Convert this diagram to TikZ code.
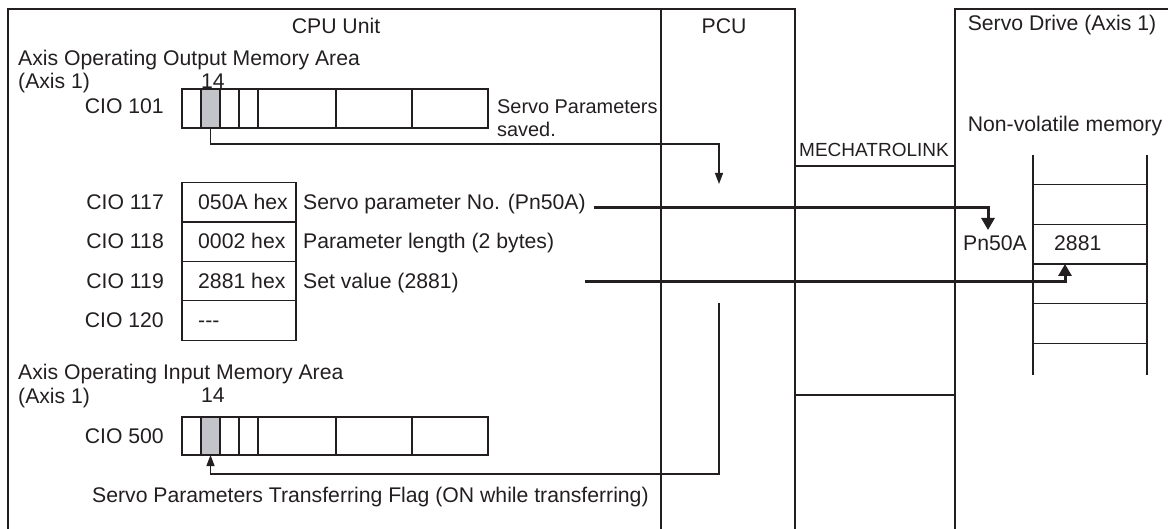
\documentclass[tikz,border=0pt]{standalone}
\usepackage{fontspec}
\setmainfont{Liberation Sans}
\usetikzlibrary{arrows.meta}
\definecolor{ink}{HTML}{231F20}
\definecolor{cellgray}{HTML}{C2C4CA}
\newcommand\myfs{\fontsize{21.2}{24}\selectfont}
\newcommand\mynarrowfs{\fontsize{19.9}{24}\selectfont}
\newcommand\mysmallfs{\fontsize{19}{22}\selectfont}
\begin{document}
\begin{tikzpicture}[x=1pt,y=-1pt,
  lbl/.style={inner sep=0pt, font=\myfs, text=ink},
  frame/.style={draw=ink, line width=1.3pt},
  cell/.style={draw=ink, line width=1.3pt, rectangle, inner sep=0pt, outer sep=0pt},
  thinarr/.style={draw=ink, line width=1.2pt, -{Triangle[length=11pt,width=8pt]}},
  thickarr/.style={draw=ink, line width=3pt, -{Triangle[length=12pt,width=13pt]}}]
\useasboundingbox (0,0) rectangle (1168,529);
% frames
\draw[frame] (8,529) -- (8,9) -- (661,9) -- (661,529);
\draw[frame] (661,9) -- (795,9) -- (795,529);
\draw[frame] (795,166) -- (955,166);
\draw[frame] (795,395) -- (955,395);
\draw[frame] (955,529) -- (955,9) -- (1168,9);
% titles
\node[lbl, anchor=base] (cpu) at (336,34) {CPU Unit};
\node[lbl, anchor=base] (pcu) at (724,34) {PCU};
\node[lbl, anchor=base] (servo) at (1062,31) {Servo Drive (Axis 1)};
\node[lbl, anchor=base, font=\mysmallfs] (mecha) at (874,157) {MECHATROLINK};
\node[lbl, anchor=base] (nvm) at (1065,132) {Non-volatile memory};
% output memory area
\node[lbl, anchor=base west] (outhdr) at (18,66) {Axis Operating Output Memory Area};
\node[lbl, anchor=base west] (outax) at (18,89) {(Axis 1)};
\node[lbl, anchor=base] (out14) at (213,88.5) {14};
\node[lbl, anchor=base east] (cio101) at (164,114) {CIO 101};
\foreach \a/\b [count=\i] in {182/201,201/220,220/239,239/258,258/336,336/412,412/488}
  \node[cell, minimum width={\b-\a}, minimum height=39] (o\i) at ({(\a+\b)/2},108.5) {};
\node[cell, fill=cellgray, minimum width=19, minimum height=39] (o14) at (210.5,108.5) {};
\node[lbl, anchor=base west, font=\mynarrowfs] (sps) at (497,114) {Servo Parameters};
\node[lbl, anchor=base west, font=\mynarrowfs] (saved) at (497,137) {saved.};
% table
\foreach \t/\v/\yc/\d [count=\i] in {117/050A hex/202.5/Servo parameter No. (Pn50A),118/0002 hex/241.5/Parameter length (2 bytes),119/2881 hex/281/Set value (2881),120/{-}{-}{-}/320.5/{}}{
  \node[cell, minimum width=114, minimum height=39.5] (r\t) at (239,\yc) {};
  \node[lbl, anchor=base east] (c\t) at (164,\yc+7.5) {CIO \t};
  \node[lbl, anchor=base west] (v\t) at (198,\yc+7.5) {\v};
  \node[lbl, anchor=base west] (d\t) at (303,\yc+7.5) {\d};
}
% input memory area
\node[lbl, anchor=base west] (inhdr) at (18,380) {Axis Operating Input Memory Area};
\node[lbl, anchor=base west] (inax) at (18,403) {(Axis 1)};
\node[lbl, anchor=base] (in14) at (213,402.5) {14};
\node[lbl, anchor=base east] (cio500) at (164,443) {CIO 500};
\foreach \a/\b [count=\i] in {182/201,201/220,220/239,239/258,258/336,336/412,412/488}
  \node[cell, minimum width={\b-\a}, minimum height=38] (n\i) at ({(\a+\b)/2},436) {};
\node[cell, fill=cellgray, minimum width=19, minimum height=38] (i14) at (210.5,436) {};
\node[lbl, anchor=base west] (flag) at (92,502) {Servo Parameters Transferring Flag (ON while transferring)};
% servo memory
\draw[frame] (1033,155) -- (1033,375);
\draw[frame] (1147,155) -- (1147,375);
\foreach \yc [count=\i] in {204.5,244,284,323.5}
  \node[cell, minimum width=114, minimum height=39.5] (m\i) at (1090,\yc) {};
\node[lbl, anchor=base west] (val) at (1054,251) {2881};
\node[lbl, anchor=base east] (pn) at (1027,251) {Pn50A};
% connectors
\coordinate (bend1) at (719,144);
\coordinate (pcuIn) at (719,184);
\draw[thinarr] (o14.south) |- (bend1) -- (pcuIn);
\coordinate (ret0) at (719,303);
\coordinate (ret1) at (719,474);
\draw[thinarr] (ret0) -- (ret1) -| (i14.south);
\coordinate (s1) at (594,208);
\coordinate (pnTip) at (988,230);
\draw[thickarr] (s1) -| (pnTip);
\coordinate (s2) at (585,282);
\coordinate (valTip) at (1065,264);
\draw[thickarr] (s2) -| (valTip);
\end{tikzpicture}
\end{document}
